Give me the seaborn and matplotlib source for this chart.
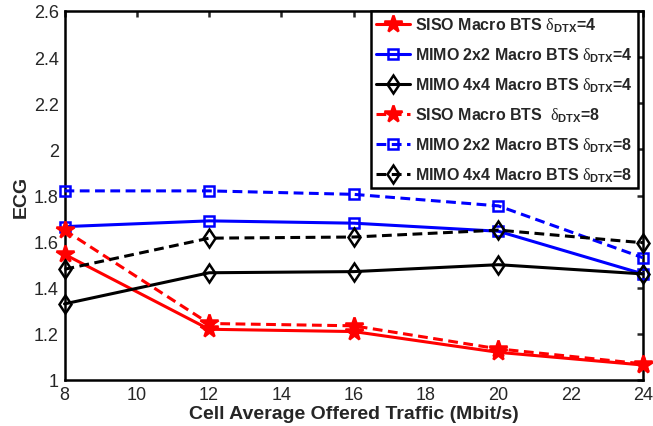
import matplotlib
matplotlib.use("Agg")
import matplotlib.pyplot as plt
import seaborn as sns
import pandas as pd

traffic = [8, 12, 16, 20, 24]
siso_4 = [1.545, 1.22, 1.21, 1.12, 1.065]
mimo2_4 = [1.665, 1.69, 1.68, 1.645, 1.46]
mimo4_4 = [1.33, 1.465, 1.47, 1.50, 1.46]
siso_8 = [1.65, 1.245, 1.235, 1.135, 1.07]
mimo2_8 = [1.82, 1.82, 1.805, 1.755, 1.53]
mimo4_8 = [1.48, 1.615, 1.62, 1.65, 1.595]

labels = [
    r"SISO Macro BTS $\mathrm{\delta}_{\mathbf{DTX}}$=4",
    r"MIMO 2x2 Macro BTS $\mathrm{\delta}_{\mathbf{DTX}}$=4",
    r"MIMO 4x4 Macro BTS $\mathrm{\delta}_{\mathbf{DTX}}$=4",
    r"SISO Macro BTS  $\mathrm{\delta}_{\mathbf{DTX}}$=8",
    r"MIMO 2x2 Macro BTS $\mathrm{\delta}_{\mathbf{DTX}}$=8",
    r"MIMO 4x4 Macro BTS $\mathrm{\delta}_{\mathbf{DTX}}$=8",
]
series = [siso_4, mimo2_4, mimo4_4, siso_8, mimo2_8, mimo4_8]
xticks = [8, 10, 12, 14, 16, 18, 20, 22, 24]
yticks = [1, 1.2, 1.4, 1.6, 1.8, 2, 2.2, 2.4, 2.6]
ytick_labels = ["1", "1.2", "1.4", "1.6", "1.8", "2", "2.2", "2.4", "2.6"]

sns.set_style("white")
plt.rcParams["font.family"] = ["Liberation Sans", "DejaVu Sans"]
plt.rcParams["mathtext.fontset"] = "custom"
plt.rcParams["mathtext.rm"] = "Liberation Serif"
plt.rcParams["mathtext.it"] = "Liberation Serif:italic"
plt.rcParams["mathtext.bf"] = "Liberation Sans:bold"

styles = [
    dict(color="red", ls="-", marker="*", ms=13, mfc="red", mec="red"),
    dict(color="blue", ls="-", marker="s", ms=6.5, mfc="none", mec="blue"),
    dict(color="black", ls="-", marker="d", ms=9.5, mfc="none", mec="black"),
    dict(color="red", ls="--", marker="*", ms=13, mfc="red", mec="red"),
    dict(color="blue", ls="--", marker="s", ms=6.5, mfc="none", mec="blue"),
    dict(color="black", ls="--", marker="d", ms=9.5, mfc="none", mec="black"),
]

W, H = 653, 427
L, R, T, B = 64.5, 643, 12, 381
fig = plt.figure(figsize=(W / 100, H / 100), dpi=100)
ax = fig.add_axes([L / W, 1 - B / H, (R - L) / W, (B - T) / H])

for lab, vals, st in zip(labels, series, styles):
    df = pd.DataFrame({"x": traffic, "y": vals})
    sns.lineplot(data=df, x="x", y="y", ax=ax, label=lab, color=st["color"],
                 marker=st["marker"], markersize=st["ms"],
                 markerfacecolor=st["mfc"], markeredgecolor=st["mec"],
                 markeredgewidth=1.8, linewidth=2.2, clip_on=False, zorder=3)
    ax.lines[-1].set_linestyle("-" if st["ls"] == "-" else (0, (3.2, 1.8)))

ax.set_xlim(8, 24)
ax.set_ylim(1, 2.6)
ax.set_xticks(xticks)
ax.set_yticks(yticks)
ax.set_yticklabels(ytick_labels)
ax.tick_params(direction="in", length=4, width=1.8, labelsize=13, top=True, right=True,
               pad=4)
for s in ax.spines.values():
    s.set_linewidth(1.8)
    s.set_color("black")
ax.set_xlabel("Cell Average Offered Traffic (Mbit/s)", fontsize=14, fontweight="bold", labelpad=2)
ax.set_ylabel("ECG", fontsize=14, fontweight="bold", labelpad=3)

leg = ax.legend(loc="upper right", bbox_to_anchor=((638 - L) / (R - L), 1.0),
                borderaxespad=0, frameon=True, fancybox=False,
                borderpad=0.3, labelspacing=0.72, handlelength=2.1, handletextpad=0.35,
                prop={"weight": "bold", "size": 11.5})
for lh in leg.get_lines():
    if lh.get_linestyle() != "-":
        lh.set_linestyle((0, (3.2, 1.8)))
leg.get_frame().set_edgecolor("black")
leg.get_frame().set_linewidth(1.8)
leg.get_frame().set_alpha(1)

fig.savefig("out.png", dpi=100)
